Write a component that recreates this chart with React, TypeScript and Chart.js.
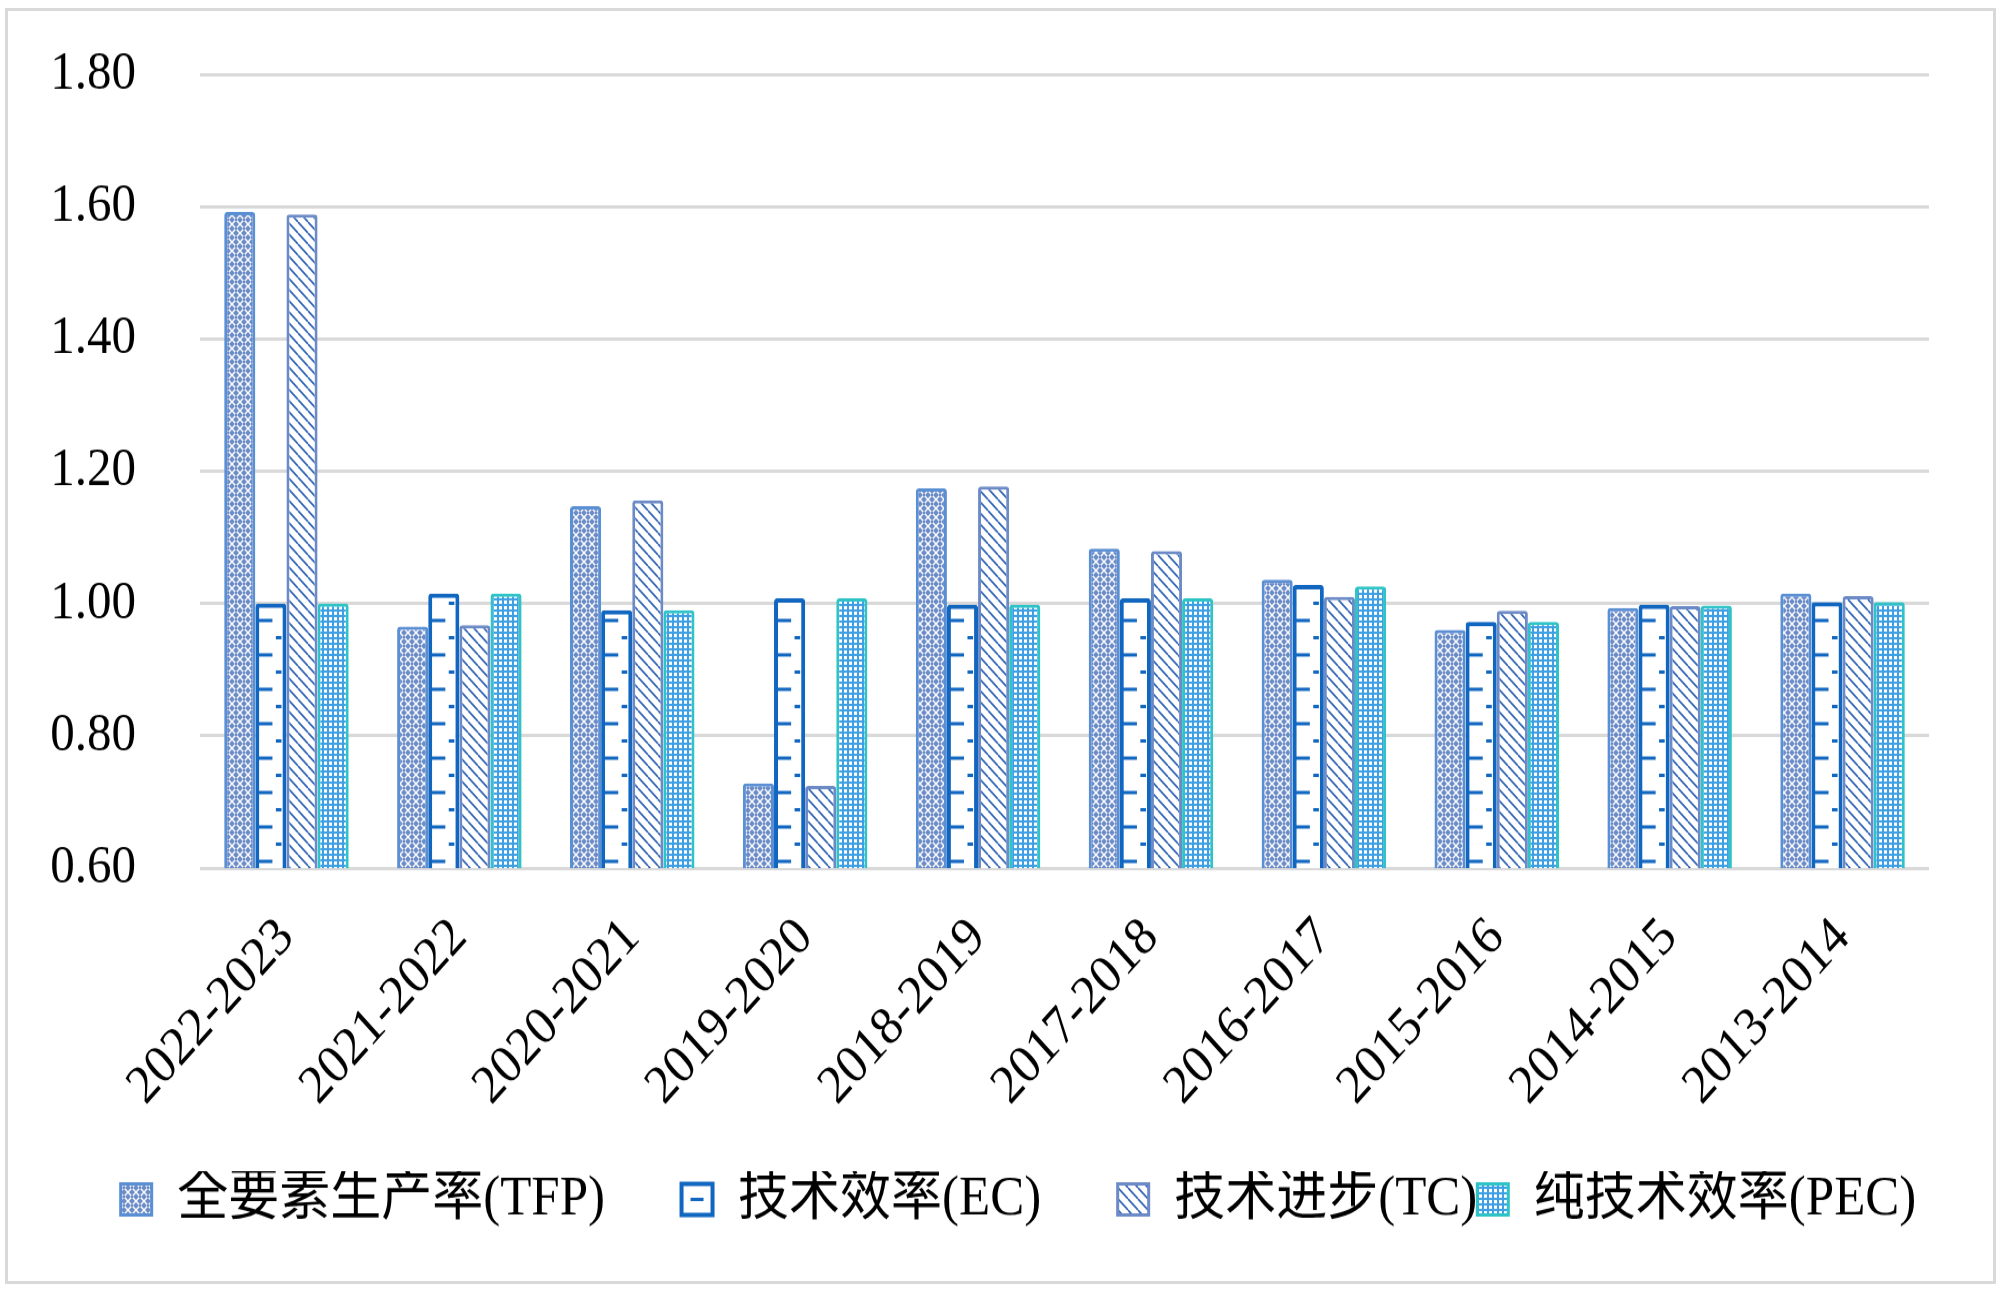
import React, { useEffect, useRef } from "react";
import { Chart, registerables } from "chart.js";

Chart.register(...registerables);

const categories = [
  "2022-2023", "2021-2022", "2020-2021", "2019-2020", "2018-2019",
  "2017-2018", "2016-2017", "2015-2016", "2014-2015", "2013-2014",
];
const seriesNames = ["全要素生产率(TFP)", "技术效率(EC)", "技术进步(TC)", "纯技术效率(PEC)"];
const tfpValues = [1.592, 0.965, 1.147, 0.728, 1.174, 1.083, 1.036, 0.960, 0.993, 1.015];
const ecValues = [1.000, 1.015, 0.990, 1.008, 0.998, 1.008, 1.028, 0.972, 0.998, 1.002];
const tcValues = [1.588, 0.967, 1.156, 0.724, 1.177, 1.079, 1.010, 0.989, 0.996, 1.011];
const pecValues = [1.000, 1.015, 0.990, 1.008, 0.998, 1.008, 1.026, 0.972, 0.997, 1.002];
const yMin = 0.6;
const yMax = 1.8;
const yStep = 0.2;

const FONT = "'Liberation Serif', 'Times New Roman', 'Noto Sans CJK SC', serif";
const TFP_BORDER = "#5B8FD3";
const EC_BORDER = "#1166C0";
const TC_BORDER = "#6B8AC6";
const PEC_BORDER = "#2EC3C6";

const CANVAS_W = 1985;
const CANVAS_H = 1144;
const SHOWN_H = 1270;
const LEGEND_TRAIL = [6, 6, 0, 0];
const LEGEND_SHIFT = 50;

function makePattern(size: number, draw: (c: CanvasRenderingContext2D, s: number) => void) {
  const cv = document.createElement("canvas");
  cv.width = size;
  cv.height = size;
  const c = cv.getContext("2d")!;
  draw(c, size);
  return c.createPattern(cv, "repeat")!;
}

export default function App() {
  const ref = useRef<HTMLCanvasElement | null>(null);

  useEffect(() => {
    if (!ref.current) return;

    const tfpPattern = makePattern(8, (c, s) => {
      c.fillStyle = "#6C8CC8";
      c.fillRect(0, 0, s, s);
      c.strokeStyle = "#FFFFFF";
      c.lineWidth = 1.4;
      c.beginPath();
      c.moveTo(0, 0); c.lineTo(s, s);
      c.moveTo(s, 0); c.lineTo(0, s);
      c.stroke();
      c.fillStyle = "#6C8CC8";
      c.fillRect(s / 2 - 1, s / 2 - 1, 2, 2);
    });
    const tcPattern = makePattern(10, (c, s) => {
      c.fillStyle = "#FFFFFF";
      c.fillRect(0, 0, s, s);
      c.strokeStyle = "#2F63B3";
      c.lineWidth = 1.6;
      c.beginPath();
      for (const off of [-s, 0, s]) {
        c.moveTo(off, 0);
        c.lineTo(off + s, s);
      }
      c.stroke();
    });
    const pecPattern = makePattern(5, (c, s) => {
      c.fillStyle = "#3F9FE4";
      c.fillRect(0, 0, s, s);
      c.fillStyle = "#FFFFFF";
      c.fillRect(1, 1, 3, 3);
    });

    const ecDashPlugin = {
      id: "ecDash",
      afterLayout(chart: any) {
        const lg = chart.legend;
        if (lg) {
          lg.left += LEGEND_SHIFT;
          lg.right += LEGEND_SHIFT;
        }
      },
      afterDatasetDraw(chart: any, args: any) {
        if (args.index !== 1) return;
        const ctx = chart.ctx;
        const bottom = chart.chartArea.bottom;
        ctx.save();
        ctx.strokeStyle = EC_BORDER;
        ctx.lineWidth = 3;
        args.meta.data.forEach((el: any) => {
          const { x, y, base, width } = el.getProps(["x", "y", "base", "width"], true);
          const left = x - width / 2;
          const start = Math.min(base, bottom);
          let k = 0;
          for (let yy = start - 6; yy > y + 7; yy -= 15.5, k++) {
            ctx.beginPath();
            if (k % 2 === 0) {
              ctx.moveTo(left + 2, yy);
              ctx.lineTo(left + width * 0.55, yy);
            } else {
              ctx.moveTo(left + width * 0.66, yy);
              ctx.lineTo(left + width * 0.84, yy);
            }
            ctx.stroke();
          }
        });
        ctx.restore();
      },
      afterDraw(chart: any) {
        const lg = chart.legend;
        if (!lg || !lg.legendHitBoxes || !lg.legendHitBoxes[1]) return;
        const hb = lg.legendHitBoxes[1];
        const ctx = chart.ctx;
        ctx.save();
        ctx.strokeStyle = EC_BORDER;
        ctx.lineWidth = 3;
        const cy = hb.top + hb.height / 2;
        ctx.beginPath();
        ctx.moveTo(hb.left + 9, cy);
        ctx.lineTo(hb.left + 22, cy);
        ctx.stroke();
        ctx.restore();
      },
    };

    const chart = new Chart(ref.current, {
      type: "bar",
      data: {
        labels: categories,
        datasets: [
          { label: seriesNames[0], data: tfpValues, backgroundColor: tfpPattern, borderColor: TFP_BORDER, borderWidth: 3 },
          { label: seriesNames[1], data: ecValues, backgroundColor: "#FFFFFF", borderColor: EC_BORDER, borderWidth: 4 },
          { label: seriesNames[2], data: tcValues, backgroundColor: tcPattern, borderColor: TC_BORDER, borderWidth: 3 },
          { label: seriesNames[3], data: pecValues, backgroundColor: pecPattern, borderColor: PEC_BORDER, borderWidth: 3 },
        ],
      },
      options: {
        responsive: false,
        animation: false,
        layout: { padding: { left: 0, right: 64, top: 57, bottom: 38 } },
        datasets: { bar: { categoryPercentage: 0.72, barPercentage: 1.0, borderRadius: 3 } },
        scales: {
          x: {
            grid: { display: false, drawTicks: false },
            border: { display: false },
            ticks: {
              autoSkip: false,
              minRotation: 45,
              maxRotation: 45,
              padding: 34,
              color: "#000000",
              font: { family: FONT, size: 49 },
            },
            afterFit: (s: any) => { s.height = 273; },
          },
          y: {
            min: yMin,
            max: yMax,
            grid: { color: "#D9D9D9", lineWidth: 3, drawTicks: true, tickLength: 64, tickColor: "rgba(0,0,0,0)" },
            border: { display: false },
            ticks: {
              stepSize: yStep,
              padding: 0,
              color: "#000000",
              font: { family: FONT, size: 49 },
              callback: (v: any) => Number(v).toFixed(2),
            },
            afterFit: (s: any) => { s.width = 192; },
          },
        },
        plugins: {
          legend: {
            position: "bottom",
            labels: {
              boxWidth: 31,
              boxHeight: 28,
              padding: 0,
              color: "#000000",
              font: { family: FONT, size: 51 },
              generateLabels: (ch: any) => {
                const items = Chart.defaults.plugins.legend.labels.generateLabels(ch);
                return items.map((it: any, i: number) => ({
                  ...it,
                  text: it.text + " ".repeat(LEGEND_TRAIL[i] || 0),
                }));
              },
            },
          },
          tooltip: { enabled: false },
        },
      },
      plugins: [ecDashPlugin],
    });
    return () => chart.destroy();
  }, []);

  return (
    <div
      style={{
        position: "absolute",
        left: 5,
        top: 8,
        width: 1991,
        height: 1276,
        boxSizing: "border-box",
        border: "3px solid #D9D9D9",
        background: "#FFFFFF",
        overflow: "hidden",
      }}
    >
      <div
        style={{
          width: CANVAS_W,
          height: CANVAS_H,
          transform: `scale(1, ${SHOWN_H / CANVAS_H})`,
          transformOrigin: "0 0",
        }}
      >
        <canvas ref={ref} width={CANVAS_W} height={CANVAS_H} style={{ display: "block" }} />
      </div>
    </div>
  );
}
